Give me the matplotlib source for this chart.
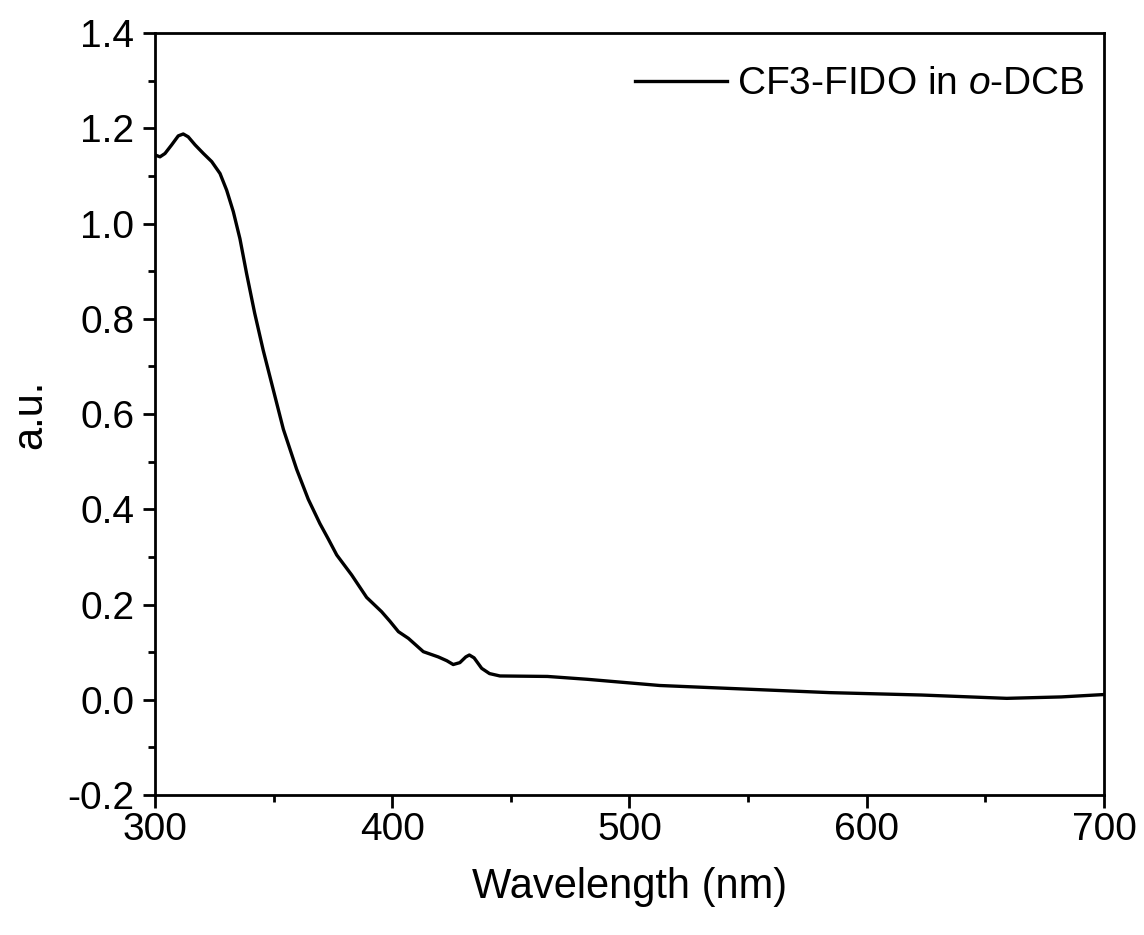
import matplotlib
matplotlib.use("Agg")
import matplotlib.pyplot as plt
from matplotlib.ticker import MultipleLocator, FormatStrFormatter

plt.rcParams["font.family"] = ["Liberation Sans", "DejaVu Sans"]
plt.rcParams["axes.unicode_minus"] = False
plt.rcParams["mathtext.fontset"] = "custom"
plt.rcParams["mathtext.it"] = "Liberation Sans:italic"
plt.rcParams["mathtext.rm"] = "Liberation Sans"

# absorption spectrum
wavelength = [300, 302.1, 304.2, 307, 309.8, 311.9, 314, 316.9, 320.4, 323.9,
              327.4, 330.2, 333, 335.8, 338.6, 342, 345.6, 349.9, 354.1, 359.7,
              364.6, 369.5, 373, 376.6, 382.9, 389.2, 395.5, 399, 402.6, 406.8,
              413.1, 419.4, 423, 425.7, 428.5, 431, 432.5, 434.5, 437.7, 441,
              445.4, 465.4, 482.2, 512.7, 551, 584.5, 623, 659, 682, 700]
absorbance = [1.144, 1.140, 1.147, 1.165, 1.184, 1.188, 1.182, 1.165, 1.147, 1.130,
              1.105, 1.070, 1.025, 0.968, 0.895, 0.812, 0.734, 0.650, 0.568, 0.484,
              0.421, 0.370, 0.338, 0.304, 0.262, 0.215, 0.185, 0.165, 0.143, 0.129,
              0.101, 0.090, 0.082, 0.074, 0.078, 0.090, 0.094, 0.088, 0.066, 0.055,
              0.050, 0.049, 0.043, 0.030, 0.022, 0.015, 0.010, 0.003, 0.006, 0.011]

fig = plt.figure(figsize=(11.44, 9.35), dpi=100)
ax = fig.add_axes([0.1355, 0.1497, 0.8295, 0.815])

ax.plot(wavelength, absorbance, color="black", linewidth=2.4,
        label=r"CF3-FIDO in $\mathit{o}$-DCB")

ax.set_xlim(300, 700)
ax.set_ylim(-0.2, 1.4)
ax.xaxis.set_major_locator(MultipleLocator(100))
ax.xaxis.set_minor_locator(MultipleLocator(50))
ax.yaxis.set_major_locator(MultipleLocator(0.2))
ax.yaxis.set_minor_locator(MultipleLocator(0.1))
ax.yaxis.set_major_formatter(FormatStrFormatter("%.1f"))

for sp in ax.spines.values():
    sp.set_linewidth(2.0)
ax.tick_params(which="major", direction="out", length=9, width=2.0,
               labelsize=28, top=False, right=False)
ax.tick_params(which="minor", direction="out", length=5, width=2.0,
               top=False, right=False)
ax.tick_params(axis="x", which="major", pad=3)
ax.tick_params(axis="y", which="major", pad=6)

ax.set_xlabel("Wavelength (nm)", fontsize=30, labelpad=14)
ax.set_ylabel("a.u.", fontsize=30, labelpad=12)

ax.legend(loc="upper right", bbox_to_anchor=(1.0, 0.982), frameon=False,
          fontsize=28, handlelength=2.36, handletextpad=0.26,
          borderaxespad=0.1, borderpad=0.4)

fig.savefig("out.png", dpi=100)
